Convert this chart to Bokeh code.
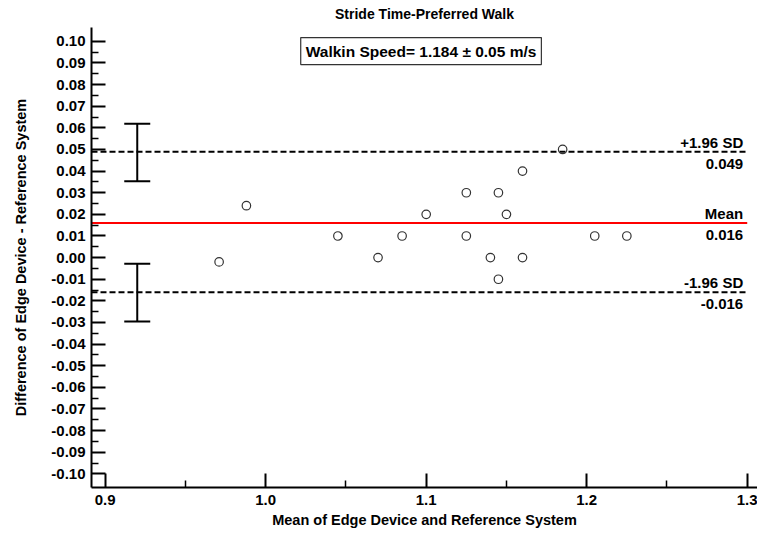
from bokeh.plotting import figure
from bokeh.models import FixedTicker, Range1d, Label, Whisker, ColumnDataSource, TeeHead
from bokeh.embed import file_html
from bokeh.resources import INLINE
from bokeh.core.properties import value

# ---- data ----
mean_x = [0.971, 0.988, 1.045, 1.070, 1.085, 1.100, 1.125, 1.125, 1.140,
          1.145, 1.145, 1.150, 1.160, 1.160, 1.185, 1.205, 1.225]
diff_y = [-0.002, 0.024, 0.010, 0.000, 0.010, 0.020, 0.030, 0.010, 0.000,
          0.030, -0.010, 0.020, 0.040, 0.000, 0.050, 0.010, 0.010]

line_names = ["+1.96 SD", "Mean", "-1.96 SD"]
line_values = [0.049, 0.016, -0.016]
value_labels = ["0.049", "0.016", "-0.016"]
line_colors = ["black", "red", "black"]
line_dashes = ["6 3", "solid", "6 3"]

ci_x = [0.92, 0.92]
ci_low = [0.0353, -0.0295]
ci_high = [0.0619, -0.0028]

x_ticks = [0.9, 1.0, 1.1, 1.2, 1.3]
x_tick_labels = ["0.9", "1.0", "1.1", "1.2", "1.3"]
y_ticks = [0.10, 0.09, 0.08, 0.07, 0.06, 0.05, 0.04, 0.03, 0.02, 0.01, 0.00,
           -0.01, -0.02, -0.03, -0.04, -0.05, -0.06, -0.07, -0.08, -0.09, -0.10]
y_tick_labels = ["0.10", "0.09", "0.08", "0.07", "0.06", "0.05", "0.04", "0.03",
                 "0.02", "0.01", "0.00", "-0.01", "-0.02", "-0.03", "-0.04",
                 "-0.05", "-0.06", "-0.07", "-0.08", "-0.09", "-0.10"]

title_text = "Stride Time-Preferred Walk"
box_text = "Walkin Speed= 1.184 \u00b1 0.05 m/s"
x_title = "Mean of Edge Device and Reference System"
y_title = "Difference of Edge Device - Reference System"

FONT = "Liberation Sans"
X0, X1 = 0.8915, 1.3064
Y0, Y1 = -0.1063, 0.1064

p = figure(width=757, height=538, output_backend="svg", toolbar_location=None,
           x_range=Range1d(X0, X1), y_range=Range1d(Y0, Y1),
           min_border_left=91, min_border_right=0, min_border_top=27,
           min_border_bottom=51)
p.outline_line_color = None
p.grid.visible = False
p.background_fill_color = "white"
p.border_fill_color = "white"

p.title.text = title_text
p.title.align = "center"
p.title.vertical_align = "top"
p.title.text_font = FONT
p.title.text_font_size = "14px"
p.title.text_font_style = "bold"
p.title.text_color = "black"
p.title.offset = 0
p.title.standoff = 8

# axes
for ax in (p.xaxis[0], p.yaxis[0]):
    ax.axis_line_width = 2
    ax.axis_line_color = "black"
    ax.major_tick_in = 14
    ax.major_tick_out = 0
    ax.minor_tick_in = 7
    ax.minor_tick_out = 0
    ax.major_tick_line_width = 2
    ax.minor_tick_line_width = 1.5
    ax.major_tick_line_color = "black"
    ax.minor_tick_line_color = "black"
    ax.major_label_text_font = FONT
    ax.major_label_text_font_size = "15px"
    ax.major_label_text_font_style = "bold"
    ax.major_label_text_color = "black"
    ax.axis_label_text_font = FONT
    ax.axis_label_text_font_size = "14.5px"
    ax.axis_label_text_font_style = "bold"
    ax.axis_label_text_color = "black"

p.xaxis.ticker = FixedTicker(ticks=x_ticks,
                             minor_ticks=[(a + b) / 2 for a, b in zip(x_ticks[:-1], x_ticks[1:])])
p.xaxis.major_label_overrides = {t: s for t, s in zip(x_ticks, x_tick_labels)}
p.xaxis.major_label_standoff = 7
p.xaxis.axis_label = x_title
p.xaxis.axis_label_standoff = 4

p.yaxis.ticker = FixedTicker(ticks=y_ticks,
                             minor_ticks=[(a + b) / 2 for a, b in zip(y_ticks[:-1], y_ticks[1:])])
p.yaxis.major_label_overrides = {t: s for t, s in zip(y_ticks, y_tick_labels)}
p.yaxis.major_label_standoff = 6
p.yaxis.axis_label = y_title
p.yaxis.axis_label_standoff = 19

# mean and limits of agreement lines
for v, c, d in zip(line_values, line_colors, line_dashes):
    p.segment(x0=X0, y0=v, x1=x_ticks[-1], y1=v, line_color=c, line_width=2,
              line_dash=d)

# confidence interval whiskers
ci_src = ColumnDataSource(dict(x=ci_x, lower=ci_low, upper=ci_high))
p.add_layout(Whisker(source=ci_src, base="x", lower="lower", upper="upper",
                     dimension="height", line_width=2, line_color="black",
                     upper_head=TeeHead(size=26, line_width=2, line_color="black"),
                     lower_head=TeeHead(size=26, line_width=2, line_color="black")))

# points
p.scatter(mean_x, diff_y, size=8.5, marker="circle", fill_color=None,
          line_color="#333333", line_width=1.2)

# labels at right of lines
lbl_x = [x_ticks[-1] - 0.0025] * len(line_values)
p.text(lbl_x, line_values, text=line_names, text_align="right",
       text_baseline="bottom", y_offset=-1, text_font=value(FONT),
       text_font_size="15px", text_font_style="bold", text_color="black")
p.text(lbl_x, line_values, text=value_labels, text_align="right",
       text_baseline="top", y_offset=7, text_font=value(FONT),
       text_font_size="15px", text_font_style="bold", text_color="black")

# speed box
p.add_layout(Label(x=1.0968, y=0.0955, text=box_text, text_align="center",
                   text_baseline="middle", text_font=FONT, text_font_size="15.5px",
                   text_font_style="bold", text_color="black",
                   border_line_color="#333333", border_line_width=1.2,
                   background_fill_color="white", padding=5))

open("out.html", "w").write(file_html(p, INLINE))
